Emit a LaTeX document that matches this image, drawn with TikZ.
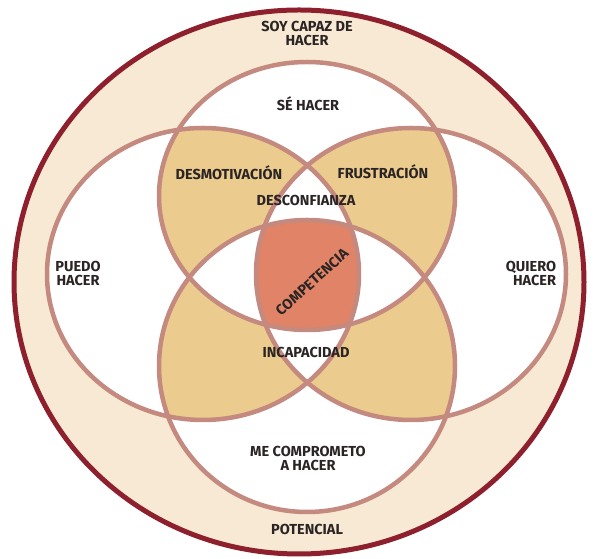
\documentclass[tikz,border=0pt]{standalone}
\usepackage{fontspec}
\setmainfont{Fira Sans}

\definecolor{bandcream}{HTML}{F7E9D3}
\definecolor{rimred}{HTML}{8E1F2D}
\definecolor{ringrose}{HTML}{C4897F}
\definecolor{pairtan}{HTML}{EBCB8E}
\definecolor{coresalmon}{HTML}{E08366}
\definecolor{labelink}{HTML}{2B2424}

\tikzset{
  lbl/.style={font=\bfseries\fontsize{14.5}{14}\selectfont, text=labelink, align=center, inner sep=0pt},
  ring/.style={draw=ringrose, line width=4.5pt}
}

% the four rings of the diagram
\newcommand{\ringT}{(T) ellipse [x radius=148, y radius=134]}
\newcommand{\ringB}{(B) ellipse [x radius=148, y radius=146]}
\newcommand{\ringL}{(L) ellipse [x radius=156, y radius=146]}
\newcommand{\ringR}{(R) ellipse [x radius=155, y radius=146]}

\begin{document}
\begin{tikzpicture}[x=1pt, y=1pt]
    \useasboundingbox (0,0) rectangle (595,559);

    % Define the centres
    \coordinate (O) at (299,277);
    \coordinate (T) at (307,363);
    \coordinate (B) at (307,193);
    \coordinate (L) at (203,285);
    \coordinate (R) at (411,285);

    % Draw the outer disc
    \draw[fill=bandcream, draw=rimred, line width=5pt] (O) ellipse [x radius=285, y radius=272];

    % Fill the overlaps
    \fill[pairtan] \ringT \ringB \ringL \ringR;
    \fill[white, even odd rule] \ringT \ringB \ringL \ringR;
    \begin{scope}
        \clip \ringT;
        \clip \ringB;
        \clip \ringL;
        \fill[coresalmon] \ringR;
    \end{scope}

    % Draw the rings
    \draw[ring] \ringT;
    \draw[ring] \ringB;
    \draw[ring] \ringL;
    \draw[ring] \ringR;

    % Place the labels
    \node[lbl] (capaz) at (307,526) {SOY CAPAZ DE\\HACER};
    \node[lbl] (se) at (308,455) {SÉ HACER};
    \node[lbl] (desmot) at (229,386) {DESMOTIVACIÓN};
    \node[lbl] (frustr) at (383,387) {FRUSTRACIÓN};
    \node[lbl] (desconf) at (306,359) {DESCONFIANZA};
    \node[lbl, rotate=42] (compet) at (312,277) {COMPETENCIA};
    \node[lbl] (puedo) at (78,286) {PUEDO\\HACER};
    \node[lbl, align=right] (quiero) at (531,286) {QUIERO\\HACER};
    \node[lbl] (incap) at (306,207) {INCAPACIDAD};
    \node[lbl] (compro) at (308,101) {ME COMPROMETO\\A HACER};
    \node[lbl] (potenc) at (307,30) {POTENCIAL};

\end{tikzpicture}
\end{document}
